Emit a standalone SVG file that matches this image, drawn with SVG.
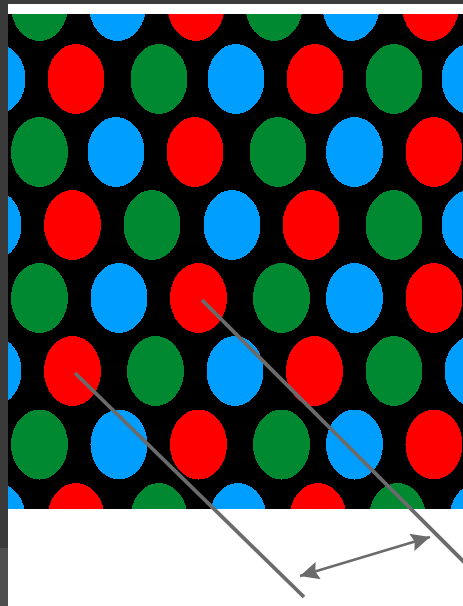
<svg xmlns="http://www.w3.org/2000/svg" width="463" height="606" viewBox="0 0 463 606">
<style>
.r{fill:#ff0000}.g{fill:#018931}.b{fill:#009eff}
ellipse{shape-rendering:crispEdges}
.ln{stroke:#6b6b6b;stroke-width:3.8;fill:none}
.ar{stroke:#6b6b6b;stroke-width:2.4;fill:none}
</style>
<defs>
<clipPath id="clip"><rect x="8" y="14" width="455" height="495"/></clipPath>
<marker id="ah" markerUnits="userSpaceOnUse" markerWidth="20" markerHeight="18" refX="19" refY="9" orient="auto-start-reverse" viewBox="0 0 20 18">
<path d="M0,0 L19,9 L0,18 L3,9 Z" fill="#6b6b6b"/>
</marker>
</defs>
<rect x="0" y="0" width="463" height="606" fill="#ffffff"/>
<rect x="0" y="0" width="463" height="4" fill="#3c3c3c"/>
<rect x="0" y="0" width="8" height="548" fill="#3a3a3a"/>
<rect x="0" y="548" width="8" height="58" fill="#4e4e4e"/>
<g id="pattern" clip-path="url(#clip)">
<rect x="8" y="14" width="455" height="495" fill="#000000"/>
<g id="row1">
<ellipse class="g" cx="39.5" cy="6" rx="28.5" ry="35"/>
<ellipse class="b" cx="117.5" cy="6" rx="28.5" ry="35"/>
<ellipse class="r" cx="196" cy="6" rx="28.5" ry="35"/>
<ellipse class="g" cx="274" cy="6" rx="28.5" ry="35"/>
<ellipse class="b" cx="351" cy="6" rx="28.5" ry="35"/>
<ellipse class="r" cx="430.5" cy="6" rx="28.5" ry="35"/>
</g>
<g id="row2">
<ellipse class="b" cx="-3" cy="79" rx="28.5" ry="35"/>
<ellipse class="r" cx="76" cy="79" rx="28.5" ry="35"/>
<ellipse class="g" cx="159" cy="79" rx="28.5" ry="35"/>
<ellipse class="b" cx="236" cy="79" rx="28.5" ry="35"/>
<ellipse class="r" cx="315" cy="79" rx="28.5" ry="35"/>
<ellipse class="g" cx="394" cy="79" rx="28.5" ry="35"/>
<ellipse class="b" cx="470" cy="79" rx="28.5" ry="35"/>
</g>
<g id="row3">
<ellipse class="g" cx="39.5" cy="152" rx="28.5" ry="35"/>
<ellipse class="b" cx="116" cy="152" rx="28.5" ry="35"/>
<ellipse class="r" cx="195" cy="152" rx="28.5" ry="35"/>
<ellipse class="g" cx="278" cy="152" rx="28.5" ry="35"/>
<ellipse class="b" cx="354.5" cy="152" rx="28.5" ry="35"/>
<ellipse class="r" cx="434" cy="152" rx="28.5" ry="35"/>
</g>
<g id="row4">
<ellipse class="b" cx="-7" cy="225" rx="28.5" ry="35"/>
<ellipse class="r" cx="72.5" cy="225" rx="28.5" ry="35"/>
<ellipse class="g" cx="152" cy="225" rx="28.5" ry="35"/>
<ellipse class="b" cx="232" cy="225" rx="28.5" ry="35"/>
<ellipse class="r" cx="311" cy="225" rx="28.5" ry="35"/>
<ellipse class="g" cx="394" cy="225" rx="28.5" ry="35"/>
<ellipse class="b" cx="470" cy="225" rx="28.5" ry="35"/>
</g>
<g id="row5">
<ellipse class="g" cx="39.5" cy="298" rx="28.5" ry="35"/>
<ellipse class="b" cx="119" cy="298" rx="28.5" ry="35"/>
<ellipse class="r" cx="198.5" cy="298" rx="28.5" ry="35"/>
<ellipse class="g" cx="281.5" cy="298" rx="28.5" ry="35"/>
<ellipse class="b" cx="354.5" cy="298" rx="28.5" ry="35"/>
<ellipse class="r" cx="434" cy="298" rx="28.5" ry="35"/>
</g>
<g id="row6">
<ellipse class="b" cx="-7" cy="371" rx="28.5" ry="35"/>
<ellipse class="r" cx="72.5" cy="371" rx="28.5" ry="35"/>
<ellipse class="g" cx="155.5" cy="371" rx="28.5" ry="35"/>
<ellipse class="b" cx="235" cy="371" rx="28.5" ry="35"/>
<ellipse class="r" cx="314.5" cy="371" rx="28.5" ry="35"/>
<ellipse class="g" cx="394" cy="371" rx="28.5" ry="35"/>
<ellipse class="b" cx="473" cy="371" rx="28.5" ry="35"/>
</g>
<g id="row7">
<ellipse class="g" cx="39.5" cy="444.5" rx="28.5" ry="35"/>
<ellipse class="b" cx="119" cy="444.5" rx="28.5" ry="35"/>
<ellipse class="r" cx="198.5" cy="444.5" rx="28.5" ry="35"/>
<ellipse class="g" cx="281.5" cy="444.5" rx="28.5" ry="35"/>
<ellipse class="b" cx="354.5" cy="444.5" rx="28.5" ry="35"/>
<ellipse class="r" cx="434" cy="444.5" rx="28.5" ry="35"/>
</g>
<g id="row8">
<ellipse class="b" cx="-3" cy="518" rx="28.5" ry="35"/>
<ellipse class="r" cx="76" cy="518" rx="28.5" ry="35"/>
<ellipse class="g" cx="159" cy="518" rx="28.5" ry="35"/>
<ellipse class="b" cx="238" cy="518" rx="28.5" ry="35"/>
<ellipse class="r" cx="318" cy="518" rx="28.5" ry="35"/>
<ellipse class="g" cx="397.5" cy="518" rx="28.5" ry="35"/>
<ellipse class="b" cx="478" cy="518" rx="28.5" ry="35"/>
</g>
</g>
<g id="connectors">
<line class="ln" x1="202" y1="300" x2="465" y2="563"/>
<line class="ln" x1="75" y1="373" x2="304" y2="597"/>
<line class="ar" x1="300" y1="576" x2="430" y2="537" marker-start="url(#ah)" marker-end="url(#ah)"/>
</g>
</svg>
